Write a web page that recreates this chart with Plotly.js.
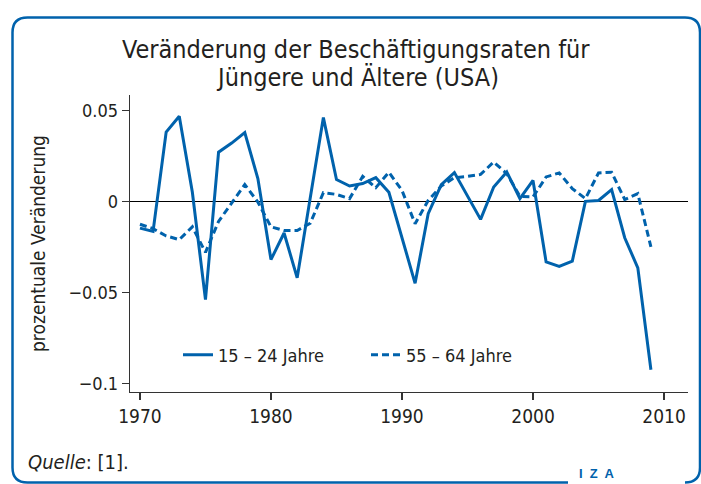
<!DOCTYPE html>
<html>
<head>
<meta charset="utf-8">
<script src="https://cdn.plot.ly/plotly-3.0.1.min.js"></script>
<style>
  html, body { margin: 0; padding: 0; background: #ffffff; }
  #chart { width: 701px; height: 484px; }
</style>
</head>
<body>
<div id="chart"></div>
<script>
const years = [1970,1971,1972,1973,1974,1975,1976,1977,1978,1979,1980,1981,1982,1983,1984,1985,1986,1987,1988,1989,1990,1991,1992,1993,1994,1995,1996,1997,1998,1999,2000,2001,2002,2003,2004,2005,2006,2007,2008,2009];
const young = [-0.0147,-0.0165,0.038,0.0467,0.005,-0.054,0.027,0.032,0.0377,0.0125,-0.032,-0.0174,-0.042,0.002,0.046,0.012,0.0084,0.0098,0.013,0.005,-0.0196,-0.045,-0.0068,0.0092,0.0158,0.003,-0.0099,0.0079,0.0161,0.0015,0.0115,-0.0333,-0.0357,-0.0328,0.0,0.0005,0.0064,-0.020,-0.0365,-0.0925];
const old = [-0.0126,-0.015,-0.019,-0.021,-0.014,-0.028,-0.011,-0.001,0.0092,-0.0004,-0.014,-0.016,-0.016,-0.012,0.0048,0.0038,0.0015,0.0137,0.0075,0.016,0.006,-0.0123,0.0005,0.0084,0.013,0.0137,0.0148,0.0216,0.0152,0.0027,0.0024,0.0134,0.0156,0.007,0.0015,0.0156,0.016,0.001,0.0042,-0.025];
const seriesNames = ['15 – 24 Jahre', '55 – 64 Jahre'];
const xTicks = [1970, 1980, 1990, 2000, 2010];
const yTicks = [-0.1, -0.05, 0, 0.05];
const yTickText = ['−0.1', '−0.05', '0', '0.05'];
const titleLines = ['Veränderung der Beschäftigungsraten für', 'Jüngere und Ältere (USA)'];
const yTitle = 'prozentuale Veränderung';
const sourceText = '<i>Quelle</i>: [1].';

const W = 701, H = 484;
const L = 130, R = 688, T = 95, B = 392;
const px = x => (x - L) / (R - L);
const py = y => (B - y) / (B - T);

const blue = 'rgb(0,98,172)';
const FONT = '"Liberation Sans Narrow", "DejaVu Sans Condensed", sans-serif';
const txt = '#231f20';

const traces = [
  { x: years, y: young, name: seriesNames[0], mode: 'lines', type: 'scatter',
    line: { color: blue, width: 3 } },
  { x: years, y: old, name: seriesNames[1], mode: 'lines', type: 'scatter',
    line: { color: blue, width: 3, dash: '7px,4px' } }
];

// rounded frame with a gap for the logo
const r = 15;
const x0 = 12.5, y0 = 17.5, x1 = 700, y1 = 482.5;
const P = (x, y) => px(x).toFixed(5) + ',' + py(y).toFixed(5);
const framePath = 'M' + P(568, y1) + ' L' + P(x0 + r, y1) + ' Q' + P(x0, y1) + ' ' + P(x0, y1 - r) +
  ' L' + P(x0, y0 + r) + ' Q' + P(x0, y0) + ' ' + P(x0 + r, y0) +
  ' L' + P(x1 - r, y0) + ' Q' + P(x1, y0) + ' ' + P(x1, y0 + r) +
  ' L' + P(x1, y1 - r) + ' Q' + P(x1, y1) + ' ' + P(x1 - r, y1);

const layout = {
  width: W, height: H,
  margin: { l: L, r: W - R, t: T, b: H - B, pad: 0 },
  paper_bgcolor: '#ffffff', plot_bgcolor: '#ffffff',
  font: { family: FONT, color: txt, size: 18 },
  showlegend: true,
  legend: { orientation: 'h', x: px(178), y: py(355), xanchor: 'left', yanchor: 'middle',
    font: { family: FONT, size: 18, color: txt }, bgcolor: 'rgba(0,0,0,0)', entrywidth: 143, entrywidthmode: 'pixels' },
  xaxis: { range: [1969.24, 2011.83], tickvals: xTicks, ticktext: xTicks.map(String),
    showgrid: false, zeroline: false, showline: true, linecolor: '#333', linewidth: 1.3,
    ticks: 'outside', ticklen: 7, tickcolor: '#333', tickwidth: 1.3,
    tickfont: { family: FONT, size: 19, color: txt } },
  yaxis: { range: [-0.1047, 0.0584], tickvals: yTicks, ticktext: yTickText,
    showgrid: false, zeroline: true, zerolinecolor: '#000', zerolinewidth: 1.3,
    showline: true, linecolor: '#333', linewidth: 1.3,
    ticks: 'outside', ticklen: 7, tickcolor: '#333', tickwidth: 1.3,
    tickfont: { family: FONT, size: 18, color: txt } },
  shapes: [
    { type: 'path', xref: 'paper', yref: 'paper', path: framePath,
      line: { color: blue, width: 2.5 }, fillcolor: 'rgba(0,0,0,0)' }
  ],
  annotations: [
    { text: titleLines[0], xref: 'paper', yref: 'paper', x: px(356), y: py(49), xanchor: 'center', yanchor: 'middle',
      showarrow: false, font: { family: FONT, size: 25, color: txt } },
    { text: titleLines[1], xref: 'paper', yref: 'paper', x: px(357), y: py(77), xanchor: 'center', yanchor: 'middle',
      showarrow: false, font: { family: FONT, size: 25, color: txt } },
    { text: yTitle, xref: 'paper', yref: 'paper', x: px(38), y: py(244), xanchor: 'center', yanchor: 'middle',
      textangle: -90, showarrow: false, font: { family: FONT, size: 19, color: txt } },
    { text: sourceText, xref: 'paper', yref: 'paper', x: px(26), y: py(462), xanchor: 'left', yanchor: 'middle',
      showarrow: false, font: { family: FONT, size: 20, color: txt } },
    { text: '<b>I  Z  A</b>', xref: 'paper', yref: 'paper', x: px(597), y: py(473), xanchor: 'center', yanchor: 'middle',
      showarrow: false, font: { family: 'Liberation Sans, sans-serif', size: 13, color: blue } }
  ]
};

Plotly.newPlot('chart', traces, layout, { displayModeBar: false, staticPlot: true });
</script>
</body>
</html>
